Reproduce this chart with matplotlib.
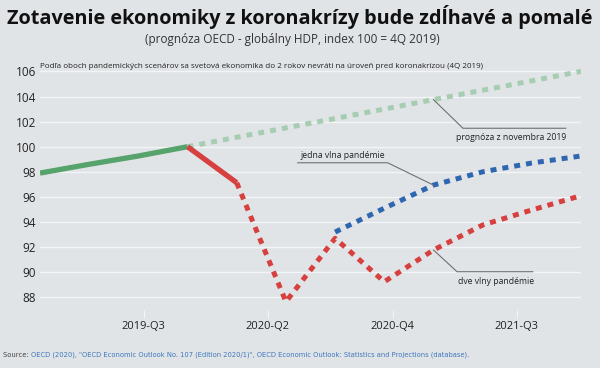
import matplotlib
matplotlib.use("Agg")
import matplotlib.pyplot as plt

# quarters 2019-Q1 .. 2021-Q4 -> index 0..11
hist_x = [0, 1, 2, 3]
hist_y = [97.9, 98.6, 99.26, 100.0]

nov2019_x = [3, 4, 5, 6, 7, 8, 9, 10, 11]
nov2019_y = [100.0, 100.75, 101.5, 102.25, 103.0, 103.75, 104.5, 105.25, 106.0]

drop_x = [3, 4]
drop_y = [100.0, 97.13]

two_waves_x = [4, 5, 6, 7, 8, 9, 10, 11]
two_waves_y = [97.13, 87.65, 92.7, 89.24, 91.77, 93.76, 94.96, 96.1]

one_wave_x = [6, 7, 8, 9, 10, 11]
one_wave_y = [93.2, 95.1, 96.94, 98.0, 98.7, 99.26]

tick_pos = [2.11, 4.63, 7.17, 9.69]
tick_labels = ["2019-Q3", "2020-Q2", "2020-Q4", "2021-Q3"]
y_ticks = [88, 90, 92, 94, 96, 98, 100, 102, 104, 106]

bg = "#e1e4e7"
green = "#56a36c"
green_light = "#a6cdb2"
red = "#d6403f"
blue = "#2f66b0"
gray = "#707070"

plt.rcParams["font.family"] = ["Open Sans", "DejaVu Sans"]

fig = plt.figure(figsize=(6, 3.68), dpi=100, facecolor=bg)
ax = fig.add_axes([40 / 600, 1 - 310 / 368, 541 / 600, 245 / 368], facecolor=bg)

for v in y_ticks:
    ax.axhline(v, color="#f3f4f5", lw=1, zorder=1)

dash = dict(lw=3.6, dashes=(1.2, 1.2), solid_capstyle="butt", dash_capstyle="butt")
ax.plot(nov2019_x, nov2019_y, color=green_light, zorder=2, **dash)
ax.plot(one_wave_x, one_wave_y, color=blue, zorder=3, **dash)
ax.plot(two_waves_x, two_waves_y, color=red, zorder=4, **dash)
ax.plot(hist_x, hist_y, color=green, lw=3.8, solid_capstyle="butt", zorder=5)
ax.plot(drop_x, drop_y, color=red, lw=3.8, solid_capstyle="butt", zorder=5)

ax.set_xlim(0, 11)
ax.set_ylim(86.99, 106.51)
ax.set_yticks(y_ticks)
ax.set_yticklabels([str(v) for v in y_ticks])
ax.set_xticks(tick_pos)
ax.set_xticklabels(tick_labels)
ax.tick_params(axis="y", length=0, labelsize=8.5, pad=3, labelcolor="#222222")
ax.tick_params(axis="x", length=6, color="#f3f4f5", labelsize=8, pad=2, labelcolor="#222222")
for s in ax.spines.values():
    s.set_visible(False)

# leader lines + labels
line_kw = dict(color=gray, lw=0.8, zorder=6)
ax.plot([8, 8.60, 10.69], [nov2019_y[5], 101.47, 101.47], **line_kw)
ax.text(10.69, 100.72, "prognóza z novembra 2019", ha="right", va="center", fontsize=6.2, color="#222222")

ax.plot([5.24, 7.07, 8], [98.72, 98.72, one_wave_y[2]], **line_kw)
ax.text(5.30, 99.28, "jedna vlna pandémie", ha="left", va="center", fontsize=6.2, color="#222222")

ax.plot([8, 8.48, 10.02], [two_waves_y[4], 90.04, 90.04], **line_kw)
ax.text(8.50, 89.3, "dve vlny pandémie", ha="left", va="center", fontsize=6.2, color="#222222")

fig.text(40 / 600, 1 - 66 / 368,
         "Podľa oboch pandemických scenárov sa svetová ekonomika do 2 rokov nevráti na úroveň pred koronakrízou (4Q 2019)",
         ha="left", va="center", fontsize=5.8, color="#222222")

fig.text(0.5, 1 - 17 / 368, "Zotavenie ekonomiky z koronakrízy bude zdĺhavé a pomalé",
         ha="center", va="center", fontsize=14.3, fontweight="bold", color="#111111")
fig.text(292 / 600, 1 - 40 / 368, "(prognóza OECD - globálny HDP, index 100 = 4Q 2019)",
         ha="center", va="center", fontsize=8.5, color="#333333")

src_font = ["Liberation Sans Narrow", "DejaVu Sans"]
t = fig.text(3 / 600, 1 - 355 / 368, "Source: ", ha="left", va="center",
             fontsize=4.9, color="#444444", family=src_font)
ax.annotate("OECD (2020), \"OECD Economic Outlook No. 107 (Edition 2020/1)\", OECD Economic Outlook: Statistics and Projections (database).",
            xy=(1, 0), xycoords=t, ha="left", va="bottom", fontsize=4.9,
            color="#3f78bd", family=src_font, annotation_clip=False)

fig.savefig("out.png", dpi=100, facecolor=bg)
